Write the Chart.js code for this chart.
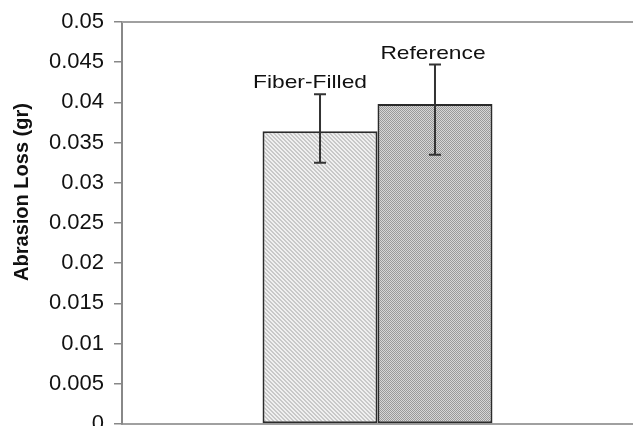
<!DOCTYPE html>
<html>
<head>
<meta charset="utf-8">
<script src="https://cdn.jsdelivr.net/npm/chart.js@4.4.1/dist/chart.umd.min.js"></script>
<style>
  html, body { margin: 0; padding: 0; background: #fff; }
  #wrap { width: 633px; height: 426px; }
</style>
</head>
<body>
<div id="wrap"><canvas id="lossChart" width="633" height="426"></canvas></div>
<script>
const categories = [""];
const seriesNames = ["Fiber-Filled", "Reference"];
const meanLoss = [0.0364, 0.0398];
const errLow = [0.0325, 0.0335];
const errHigh = [0.0410, 0.0447];
const yMin = 0, yMax = 0.05, yStep = 0.005;
const yTitle = "Abrasion Loss (gr)";

function makePattern(kind) {
    const c = document.createElement("canvas");
    const p = c.getContext("2d");
    if (kind === "hatch") {
        c.width = 4; c.height = 4;
        p.fillStyle = "#f0f0f0";
        p.fillRect(0, 0, 4, 4);
        p.fillStyle = "#c8c8c8";
        // diagonal stripes going down to the right
        for (let i = 0; i < 4; i++) {
            p.fillRect(i, i, 1, 1);
            p.fillRect((i + 1) % 4, i, 1, 1);
        }
    } else {
        c.width = 2; c.height = 2;
        p.fillStyle = "#d6d6d6";
        p.fillRect(0, 0, 2, 2);
        p.fillStyle = "#999999";
        p.fillRect(0, 0, 1, 1);
        p.fillRect(1, 1, 1, 1);
    }
    return p.createPattern(c, "repeat");
}

const fills = [makePattern("hatch"), makePattern("check")];

// error bars, top border line, bar labels, y title
const extras = {
    id: "extras",
    afterDatasetsDraw(chart) {
        const ctx = chart.ctx;
        const y = chart.scales.y;
        const area = chart.chartArea;
        ctx.save();
        // top line of plot area
        ctx.strokeStyle = "#a0a0a0";
        ctx.lineWidth = 2;
        ctx.beginPath();
        ctx.moveTo(area.left, area.top);
        ctx.lineTo(chart.width, area.top);
        ctx.stroke();

        const labelDx = [-10, -2];
        seriesNames.forEach(function (name, i) {
            const bar = chart.getDatasetMeta(i).data[0];
            const x = bar.x;
            const top = y.getPixelForValue(errHigh[i]);
            const bot = y.getPixelForValue(errLow[i]);
            ctx.strokeStyle = "#333";
            ctx.lineWidth = 2;
            ctx.beginPath();
            ctx.moveTo(x, top); ctx.lineTo(x, bot);
            ctx.moveTo(x - 6, top); ctx.lineTo(x + 6, top);
            ctx.moveTo(x - 6, bot); ctx.lineTo(x + 6, bot);
            ctx.stroke();

            // the source text is a bit wider than tall
            ctx.save();
            ctx.translate(x + labelDx[i], top - 6);
            ctx.scale(1.2, 1);
            ctx.fillStyle = "#111";
            ctx.font = "19px 'Liberation Sans', Arial, sans-serif";
            ctx.textAlign = "center";
            ctx.textBaseline = "alphabetic";
            ctx.fillText(name, 0, 0);
            ctx.restore();
        });

        // y axis title
        ctx.translate(22, 192);
        ctx.rotate(-Math.PI / 2);
        ctx.font = "bold 20px 'Liberation Sans', Arial, sans-serif";
        ctx.fillStyle = "#111";
        ctx.textAlign = "center";
        ctx.textBaseline = "middle";
        ctx.fillText(yTitle, 0, 0);
        ctx.restore();
    }
};

document.addEventListener("DOMContentLoaded", function () {
    const ctx = document.getElementById("lossChart").getContext("2d");
    new Chart(ctx, {
        type: "bar",
        data: {
            labels: categories,
            datasets: seriesNames.map(function (name, i) {
                return {
                    label: name,
                    data: [meanLoss[i]],
                    backgroundColor: fills[i],
                    borderColor: "#2b2b2b",
                    borderWidth: 2,
                    borderSkipped: false,
                    categoryPercentage: 0.45,
                    barPercentage: 1.0
                };
            })
        },
        options: {
            responsive: false,
            animation: false,
            layout: { padding: { top: 22, right: 0, bottom: 2, left: 0 } },
            plugins: {
                legend: { display: false },
                tooltip: { enabled: false }
            },
            scales: {
                x: {
                    grid: { display: false, drawTicks: false, tickLength: 0 },
                    ticks: { display: false },
                    border: { display: true, color: "#a0a0a0", width: 2 }
                },
                y: {
                    min: yMin,
                    max: yMax,
                    afterFit: function (scale) {
                        scale.width = 122;
                        scale.paddingTop = 0;
                        scale.paddingBottom = 0;
                    },
                    ticks: {
                        stepSize: yStep,
                        color: "#111",
                        padding: 10,
                        font: { family: "'Liberation Sans', Arial, sans-serif", size: 22 },
                        callback: function (v) { return String(Number(v.toFixed(3))); }
                    },
                    grid: {
                        drawOnChartArea: false,
                        drawTicks: true,
                        tickLength: 8,
                        color: "#888",
                        lineWidth: 1.5
                    },
                    border: { display: true, color: "#888", width: 2 }
                }
            }
        },
        plugins: [extras]
    });
});
</script>
</body>
</html>
